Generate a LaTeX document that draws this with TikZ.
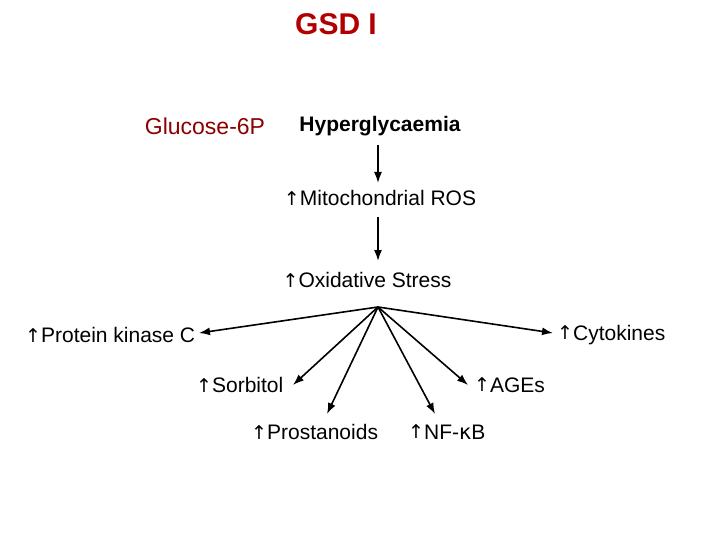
\documentclass[tikz,border=0pt]{standalone}
\usepackage{fontspec}
\setmainfont{Liberation Sans}
\newfontfamily\djfont{DejaVu Sans}
\usetikzlibrary{arrows.meta}
\begin{document}
\begin{tikzpicture}[x=1pt,y=-1pt,
  lbl/.style={inner sep=0pt,font=\fontsize{21}{24}\selectfont},
  arr/.style={-{Latex[length=11pt,width=8pt]},line width=1.6pt}]
\useasboundingbox (0,0) rectangle (720,540);
\newcommand{\upa}{{\djfont\fontsize{19}{22}\selectfont\raisebox{0.5pt}{↑}}}
\node[inner sep=0pt,font=\bfseries\fontsize{30}{34}\selectfont,text=red!70!black] (title) at (336,24) {GSD I};
\node[inner sep=0pt,font=\fontsize{23}{26}\selectfont,text=red!55!black] (glu) at (205,126) {Glucose-6P};
\node[lbl,font=\bfseries\fontsize{21}{24}\selectfont] (hyp) at (380,126) {Hyperglycaemia};
\node[lbl] (mito) at (380,198) {\upa Mitochondrial ROS};
\node[lbl] (ox) at (367,280) {\upa Oxidative Stress};
\coordinate (o) at (378,307);
\node[lbl,anchor=west] (pkc) at (25,335) {\upa Protein kinase C};
\node[lbl,anchor=west] (cyt) at (557,335) {\upa Cytokines};
\node[lbl,anchor=west] (sor) at (196,385) {\upa Sorbitol};
\node[lbl,anchor=west] (pro) at (251,432) {\upa Prostanoids};
\node[lbl,anchor=west] (nf) at (408,432) {\upa NF-{\djfont κ}B};
\node[lbl,anchor=west] (age) at (474,385) {\upa AGEs};
\draw[arr] (378,145) -- (378,183);
\draw[arr] (378,217) -- (378,261);
\draw[arr] (o) -- (199,333);
\draw[arr] (o) -- (553,333);
\draw[arr] (o) -- (293,385);
\draw[arr] (o) -- (327,414);
\draw[arr] (o) -- (435,414);
\draw[arr] (o) -- (468,385);
\end{tikzpicture}
\end{document}
